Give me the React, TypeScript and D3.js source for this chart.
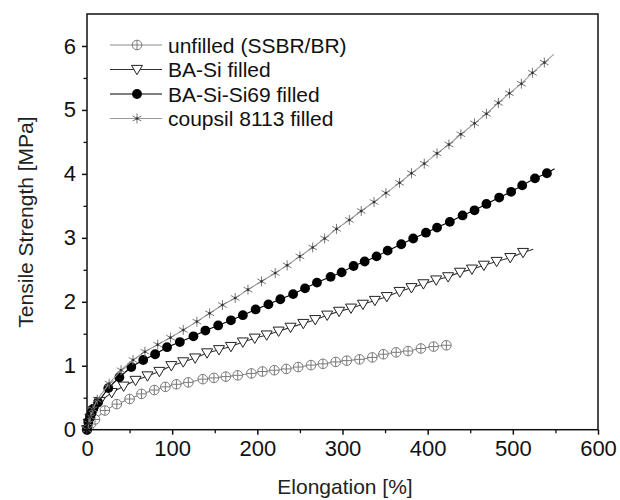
import * as d3 from "d3";
import { useEffect } from "react";

// elongation [%] / tensile strength [MPa]
const unfilledX = [0, 2, 5, 9.4, 21, 35, 50, 64, 79, 92, 105, 119, 136, 149, 163, 177, 193, 206, 220, 234, 248, 263, 277, 292, 305, 320, 335, 348, 363, 377, 392, 407, 422, 425];
const unfilledY = [0, 0.05, 0.1, 0.16, 0.3, 0.4, 0.48, 0.56, 0.62, 0.67, 0.71, 0.74, 0.79, 0.81, 0.83, 0.85, 0.88, 0.91, 0.93, 0.95, 0.98, 1.01, 1.03, 1.06, 1.08, 1.1, 1.13, 1.18, 1.21, 1.23, 1.27, 1.3, 1.32, 1.33];

const baSiX = [0, 2, 4, 8, 15, 29, 43, 57, 71, 85, 99, 113, 127, 141, 155, 169, 183, 197, 211, 225, 239, 254, 268, 282, 296, 310, 324, 338, 352, 367, 381, 395, 410, 424, 438, 452, 466, 481, 497, 512, 524];
const baSiY = [0, 0.1, 0.18, 0.3, 0.44, 0.58, 0.68, 0.77, 0.84, 0.91, 1.0, 1.06, 1.12, 1.2, 1.25, 1.3, 1.37, 1.43, 1.48, 1.54, 1.6, 1.66, 1.72, 1.79, 1.85, 1.9, 1.96, 2.02, 2.08, 2.16, 2.22, 2.28, 2.34, 2.39, 2.46, 2.51, 2.57, 2.63, 2.69, 2.77, 2.82];

const si69X = [0, 1.5, 3.5, 5.5, 7.5, 13, 25, 38, 52, 66, 80, 94, 109, 125, 139, 154, 169, 183, 198, 213, 227, 242, 256, 270, 286, 299, 313, 326, 340, 353, 369, 383, 398, 411, 426, 441, 455, 469, 484, 498, 511, 526, 540, 549];
const si69Y = [0, 0.12, 0.2, 0.27, 0.33, 0.43, 0.65, 0.82, 0.98, 1.09, 1.18, 1.29, 1.37, 1.46, 1.55, 1.63, 1.71, 1.79, 1.88, 1.96, 2.04, 2.12, 2.21, 2.3, 2.39, 2.46, 2.56, 2.63, 2.71, 2.8, 2.9, 2.99, 3.08, 3.16, 3.25, 3.35, 3.43, 3.53, 3.63, 3.72, 3.82, 3.93, 4.01, 4.08];

const coupsilX = [0, 2, 4, 7, 12, 26, 40, 54, 68, 83, 98, 113, 129, 144, 159, 174, 189, 205, 221, 235, 250, 265, 279, 293, 308, 322, 337, 351, 367, 381, 396, 411, 425, 439, 455, 469, 483, 496, 510, 523, 537, 548];
const coupsilY = [0, 0.1, 0.2, 0.32, 0.47, 0.72, 0.93, 1.09, 1.22, 1.33, 1.44, 1.56, 1.69, 1.82, 1.95, 2.06, 2.19, 2.32, 2.45, 2.57, 2.71, 2.85, 2.99, 3.14, 3.28, 3.42, 3.56, 3.7, 3.86, 4.01, 4.16, 4.32, 4.46, 4.62, 4.79, 4.94, 5.11, 5.26, 5.41, 5.58, 5.74, 5.87];

const seriesNames = ["unfilled (SSBR/BR)", "BA-Si filled", "BA-Si-Si69 filled", "coupsil 8113 filled"];
const xTicks = [0, 100, 200, 300, 400, 500, 600];
const yTicks = [0, 1, 2, 3, 4, 5, 6];

const W = 620, H = 500;
const left = 87, right = 598, top = 14, bottom = 429.7;
const font = "'Liberation Sans', Arial, sans-serif";

export default function App() {
  useEffect(() => {
    document.body.style.margin = "0";
    const svg = d3.select("#chart");
    svg.selectAll("*").remove();

    const x = d3.scaleLinear().domain([0, 600]).range([left, right]);
    const y = d3.scaleLinear().domain([0, 6.5]).range([bottom, top]);

    const series = [
      { name: seriesNames[0], xs: unfilledX, ys: unfilledY, line: "#8c8c8c", sym: "plus", col: "#7a7a7a" },
      { name: seriesNames[1], xs: baSiX, ys: baSiY, line: "#333", sym: "tri", col: "#222" },
      { name: seriesNames[2], xs: si69X, ys: si69Y, line: "#000", sym: "dot", col: "#000" },
      { name: seriesNames[3], xs: coupsilX, ys: coupsilY, line: "#999", sym: "star", col: "#777" },
    ];

    const drawMarker = (g: any, sym: string, col: string, cx: number, cy: number) => {
      if (sym === "plus") {
        g.append("circle").attr("cx", cx).attr("cy", cy).attr("r", 4.8).attr("fill", "white").attr("stroke", col).attr("stroke-width", 1);
        g.append("path").attr("d", `M${cx - 4.8},${cy}H${cx + 4.8}M${cx},${cy - 4.8}V${cy + 4.8}`).attr("stroke", col).attr("stroke-width", 1);
      } else if (sym === "tri") {
        const s = 5.5;
        g.append("path").attr("d", `M${cx - s},${cy - s * 0.75}L${cx + s},${cy - s * 0.75}L${cx},${cy + s * 0.95}Z`).attr("fill", "white").attr("stroke", col).attr("stroke-width", 1);
      } else if (sym === "dot") {
        g.append("circle").attr("cx", cx).attr("cy", cy).attr("r", 4.9).attr("fill", col);
      } else {
        const r = 5;
        let d = `M${cx},${cy - r}V${cy + r}`;
        [30, -30].forEach((a) => {
          const dx = r * Math.cos((a * Math.PI) / 180), dy = r * Math.sin((a * Math.PI) / 180);
          d += `M${cx - dx},${cy - dy}L${cx + dx},${cy + dy}`;
        });
        g.append("path").attr("d", d).attr("stroke", col).attr("stroke-width", 1);
        g.append("circle").attr("cx", cx).attr("cy", cy).attr("r", 1.3).attr("fill", "#333");
      }
    };

    series.forEach((s) => {
      const pts = s.xs.map((v, i) => [x(v), y(s.ys[i])] as [number, number]);
      svg.append("path").attr("d", d3.line()(pts)).attr("fill", "none").attr("stroke", s.line).attr("stroke-width", 1.1);
      const g = svg.append("g");
      // last point only ends the line, no symbol there
      pts.slice(0, pts.length - 1).forEach(([cx, cy]) => drawMarker(g, s.sym, s.col, cx, cy));
    });

    // frame
    svg.append("rect").attr("x", left).attr("y", top).attr("width", right - left).attr("height", bottom - top)
      .attr("fill", "none").attr("stroke", "#111").attr("stroke-width", 1.5);

    // x axis
    const gx = svg.append("g").attr("transform", `translate(0,${bottom})`)
      .call(d3.axisBottom(x).tickValues(xTicks).tickSize(5).tickPadding(6).tickFormat(d3.format("d")));
    gx.select(".domain").remove();
    gx.selectAll("line").attr("stroke", "#111").attr("stroke-width", 1.5);
    gx.selectAll("text").attr("font-family", font).attr("font-size", 22).attr("fill", "#111");
    const gxm = svg.append("g").attr("transform", `translate(0,${bottom})`)
      .call(d3.axisBottom(x).tickValues(d3.range(50, 600, 100)).tickSize(3.5).tickFormat(() => ""));
    gxm.select(".domain").remove();
    gxm.selectAll("line").attr("stroke", "#111").attr("stroke-width", 1.3);

    // y axis
    const gy = svg.append("g").attr("transform", `translate(${left},0)`)
      .call(d3.axisLeft(y).tickValues(yTicks).tickSize(5).tickPadding(6).tickFormat(d3.format("d")));
    gy.select(".domain").remove();
    gy.selectAll("line").attr("stroke", "#111").attr("stroke-width", 1.5);
    gy.selectAll("text").attr("font-family", font).attr("font-size", 22).attr("fill", "#111");
    const gym = svg.append("g").attr("transform", `translate(${left},0)`)
      .call(d3.axisLeft(y).tickValues(d3.range(0.5, 6.5, 1)).tickSize(3.5).tickFormat(() => ""));
    gym.select(".domain").remove();
    gym.selectAll("line").attr("stroke", "#111").attr("stroke-width", 1.3);

    // axis titles
    svg.append("text").attr("x", 345).attr("y", 494).attr("text-anchor", "middle")
      .attr("font-family", font).attr("font-size", 21).attr("fill", "#222").text("Elongation [%]");
    svg.append("text").attr("transform", `translate(33,222) rotate(-90)`).attr("text-anchor", "middle")
      .attr("font-family", font).attr("font-size", 21).attr("fill", "#222").text("Tensile Strength [MPa]");

    // legend
    series.forEach((s, i) => {
      const ly = 45 + i * 24.5;
      svg.append("line").attr("x1", 110).attr("x2", 162).attr("y1", ly).attr("y2", ly).attr("stroke", s.line).attr("stroke-width", 1.1);
      drawMarker(svg.append("g"), s.sym, s.col, 137, ly);
      svg.append("text").attr("x", 168).attr("y", ly + 7.5).attr("font-family", font).attr("font-size", 21).attr("fill", "#111").text(s.name);
    });
  }, []);

  return <svg id="chart" width={W} height={H} style={{ display: "block", background: "white" }} />;
}
